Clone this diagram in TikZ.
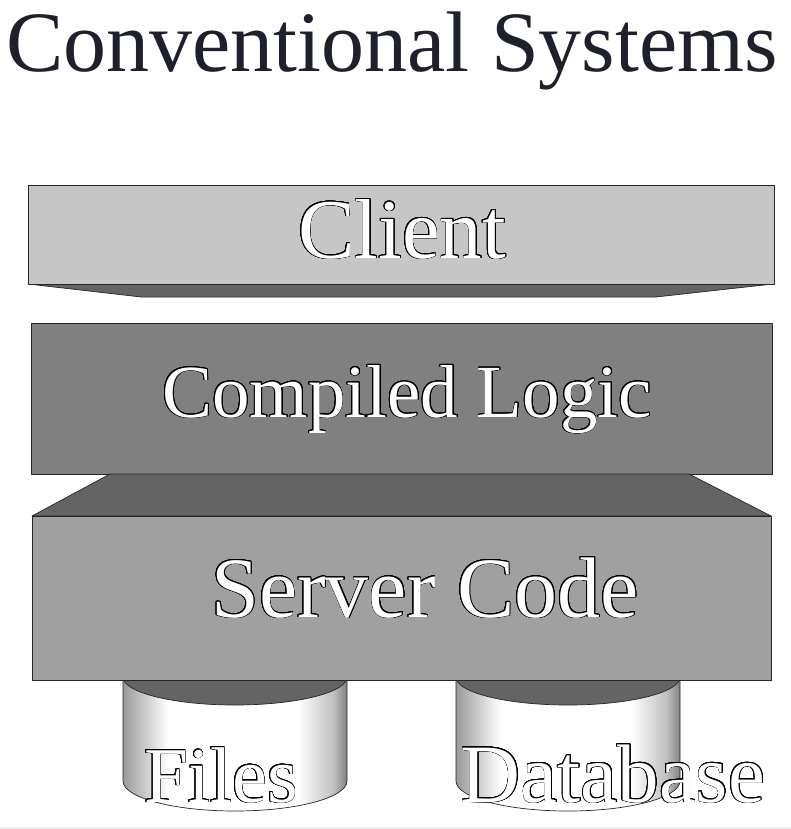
\documentclass[tikz,border=0pt]{standalone}
\usepackage{fontspec}
\setmainfont{Liberation Serif}
\usepackage[copies]{contour}
\contourlength{0.8pt}
\contournumber{24}

\definecolor{titleink}{RGB}{30,32,44}
\definecolor{clientgray}{RGB}{198,198,198}
\definecolor{logicgray}{RGB}{128,128,128}
\definecolor{servergray}{RGB}{160,160,160}
\definecolor{shadegray}{RGB}{100,100,100}

\pgfdeclarehorizontalshading{cylshade}{100bp}{color(0bp)=(black!40); color(25bp)=(black!40); color(35bp)=(white); color(64bp)=(white); color(72bp)=(black!25); color(75bp)=(black!50); color(100bp)=(black!50)}

\tikzset{
  slab/.style={draw=black!85, line width=0.7pt, line join=round},
  layerlabel/.style={anchor=base, text=white, inner sep=0pt},
  cylbody/.style={shading=cylshade, draw=black!85, line width=0.7pt}
}

\newcommand{\outlined}[1]{\contour{black}{#1}}

\begin{document}
\begin{tikzpicture}[x=1pt, y=-1pt]
    \useasboundingbox (0,0) rectangle (791,829);
    \fill[black!6] (0,827) rectangle (791,829);

    % Title
    \node[anchor=base, text=titleink, inner sep=0pt, font=\fontsize{86}{90}\selectfont]
        (title) at (392,72) {Conventional Systems};

    % Client slab
    \draw[slab, fill=shadegray] (28,284) -- (141,297) -- (656,297) -- (773,284) -- cycle;
    \draw[slab, fill=clientgray] (28,185) rectangle (774,284);

    % Compiled logic slab
    \draw[slab, fill=logicgray] (31,323) rectangle (772,474);

    % Cylinders (files, database)
    \shadedraw[cylbody] (123,677) -- (123,781) arc[start angle=180, end angle=360, x radius=112pt, y radius=30pt] -- (347,677) -- cycle;
    \draw[slab, fill=shadegray] (235,677) ellipse [x radius=112pt, y radius=28pt];
    \shadedraw[cylbody] (456,677) -- (456,781) arc[start angle=180, end angle=360, x radius=112pt, y radius=30pt] -- (680,677) -- cycle;
    \draw[slab, fill=shadegray] (568,677) ellipse [x radius=112pt, y radius=28pt];

    % Server code box
    \draw[slab, fill=shadegray] (110,474) -- (689,474) -- (771,516) -- (32,516) -- cycle;
    \draw[slab, fill=servergray] (32,516) rectangle (771,680);

    % Labels
    \node[layerlabel, font=\fontsize{85}{90}\selectfont] (client) at (402,258) {\outlined{Client}};
    \node[layerlabel, font=\fontsize{75}{80}\selectfont] (logic) at (407,417) {\outlined{Compiled Logic}};
    \node[layerlabel, font=\fontsize{86}{90}\selectfont] (server) at (425,617) {\outlined{Server Code}};
    \node[layerlabel, font=\fontsize{79}{84}\selectfont] (files) at (221,802) {\outlined{Files}};
    \node[layerlabel, font=\fontsize{83}{88}\selectfont] (database) at (613,802) {\outlined{Database}};
\end{tikzpicture}
\end{document}
